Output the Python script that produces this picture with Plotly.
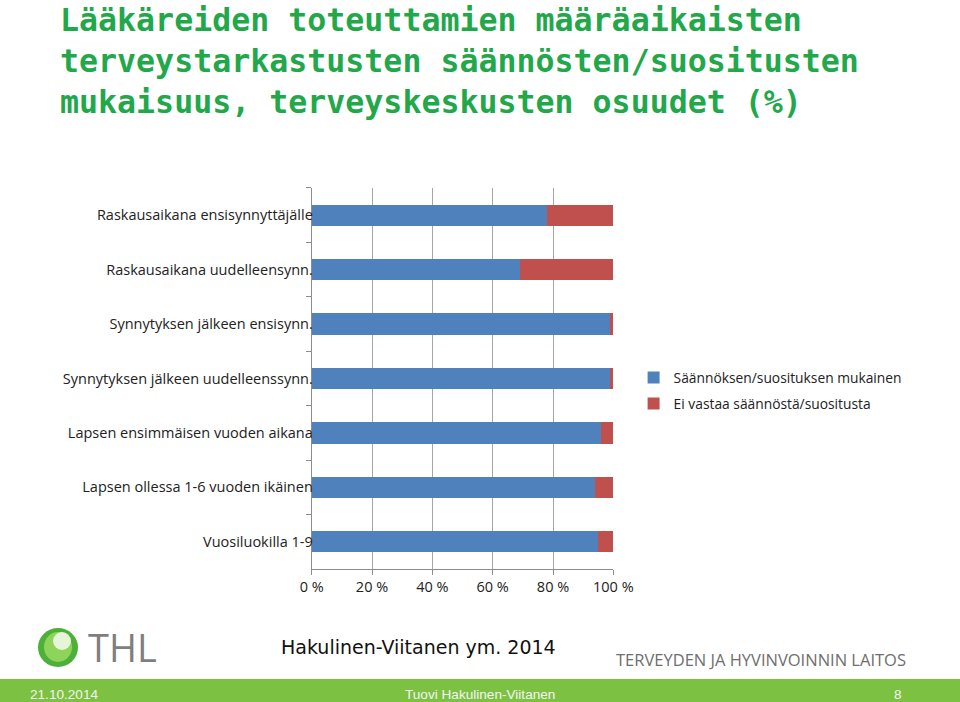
import plotly.graph_objects as go

categories = [
    "Raskausaikana ensisynnyttäjälle",
    "Raskausaikana uudelleensynn.",
    "Synnytyksen jälkeen ensisynn.",
    "Synnytyksen jälkeen uudelleenssynn.",
    "Lapsen ensimmäisen vuoden aikana",
    "Lapsen ollessa 1-6 vuoden ikäinen",
    "Vuosiluokilla 1-9",
]
mukainen = [78, 69, 99, 99, 96, 94, 95]
ei_vastaa = [22, 31, 1, 1, 4, 6, 5]
tick_vals = [0, 20, 40, 60, 80, 100]
tick_text = ["0 %", "20 %", "40 %", "60 %", "80 %", "100 %"]

BLUE = "#4F81BD"
RED = "#C0504D"
LABEL_FONT = "'Open Sans', sans-serif"

fig = go.Figure()
fig.add_trace(go.Bar(
    y=categories, x=mukainen, orientation="h", name="Säännöksen/suosituksen mukainen",
    marker=dict(color=BLUE, line=dict(width=0)), legendgroup="a",
))
fig.add_trace(go.Bar(
    y=categories, x=ei_vastaa, orientation="h", name="Ei vastaa säännöstä/suositusta",
    marker=dict(color=RED, line=dict(width=0)), legendgroup="b",
))

fig.update_layout(
    width=960, height=702,
    margin=dict(l=0, r=0, t=0, b=0, pad=0, autoexpand=False),
    paper_bgcolor="white", plot_bgcolor="white",
    barmode="stack", bargap=0.61,
    showlegend=True,
    legend=dict(
        x=0.660, y=0.4437, xanchor="left", yanchor="middle",
        font=dict(family=LABEL_FONT, size=13.8, color="#222222"),
        tracegroupgap=5, bgcolor="rgba(0,0,0,0)",
    ),
    xaxis=dict(
        domain=[0.3247, 0.6389], range=[0, 100],
        tickvals=tick_vals, ticktext=tick_text,
        showgrid=True, gridcolor="#A6A6A6", gridwidth=1,
        showline=True, linecolor="#8C8C8C", linewidth=1,
        ticks="outside", ticklen=5, tickcolor="#8C8C8C",
        tickfont=dict(family=LABEL_FONT, size=14.5, color="#222222"),
        zeroline=False, anchor="y", automargin=False,
    ),
    yaxis=dict(
        domain=[0.1895, 0.7322], autorange="reversed",
        showline=True, linecolor="#8C8C8C", linewidth=1,
        ticks="outside", ticklen=5, tickcolor="#8C8C8C", tickson="boundaries",
        ticklabelstandoff=-5,
        tickfont=dict(family=LABEL_FONT, size=14.5, color="#222222"),
        showgrid=False, zeroline=False, automargin=False,
    ),
)

# Footer band
fig.add_shape(type="rect", xref="paper", yref="paper", x0=0, x1=1, y0=0, y1=23/702,
              fillcolor="#7DC142", line=dict(width=0), layer="below")
# Logo sphere
fig.add_shape(type="circle", xref="paper", yref="paper",
              x0=38/960, x1=78/960, y0=1-667/702, y1=1-628/702,
              fillcolor="#4DB03A", line=dict(width=0))
fig.add_shape(type="circle", xref="paper", yref="paper",
              x0=44/960, x1=72/960, y0=1-662/702, y1=1-632/702,
              fillcolor="#8ED35A", line=dict(width=0))
fig.add_shape(type="circle", xref="paper", yref="paper",
              x0=53/960, x1=71/960, y0=1-650/702, y1=1-632/702,
              fillcolor="#E6F4D8", line=dict(width=0))

annos = [
    dict(text="Lääkäreiden toteuttamien määräaikaisten<br>terveystarkastusten säännösten/suositusten<br>mukaisuus, terveyskeskusten osuudet (%)",
         x=58/960, y=1, xanchor="left", yanchor="top", align="left",
         font=dict(family="'DejaVu Sans Mono', monospace", size=31.6, color="#22A84A", weight="bold")),
    dict(text="THL", x=86/960, y=1-647/702, xanchor="left", yanchor="middle",
         font=dict(family="'Open Sans', sans-serif", size=38, color="#7F7F7F")),
    dict(text="Hakulinen-Viitanen ym. 2014", x=418/960, y=1-647/702, xanchor="center", yanchor="middle",
         font=dict(family="'DejaVu Sans', sans-serif", size=19, color="#111111")),
    dict(text="TERVEYDEN JA HYVINVOINNIN LAITOS", x=908/960, y=1-659/702, xanchor="right", yanchor="middle",
         font=dict(family="'Open Sans', sans-serif", size=16.5, color="#6E6E6E")),
    dict(text="21.10.2014", x=28/960, y=1-694/702, xanchor="left", yanchor="middle",
         font=dict(family="'Liberation Sans', Arial, sans-serif", size=13.6, color="#F4F4F4")),
    dict(text="Tuovi Hakulinen-Viitanen", x=480/960, y=1-694/702, xanchor="center", yanchor="middle",
         font=dict(family="'Liberation Sans', Arial, sans-serif", size=13.6, color="#F4F4F4")),
    dict(text="8", x=898/960, y=1-694/702, xanchor="center", yanchor="middle",
         font=dict(family="'Liberation Sans', Arial, sans-serif", size=13.6, color="#F4F4F4")),
]
for a in annos:
    fig.add_annotation(xref="paper", yref="paper", showarrow=False, **a)

fig.write_html("out.html")
